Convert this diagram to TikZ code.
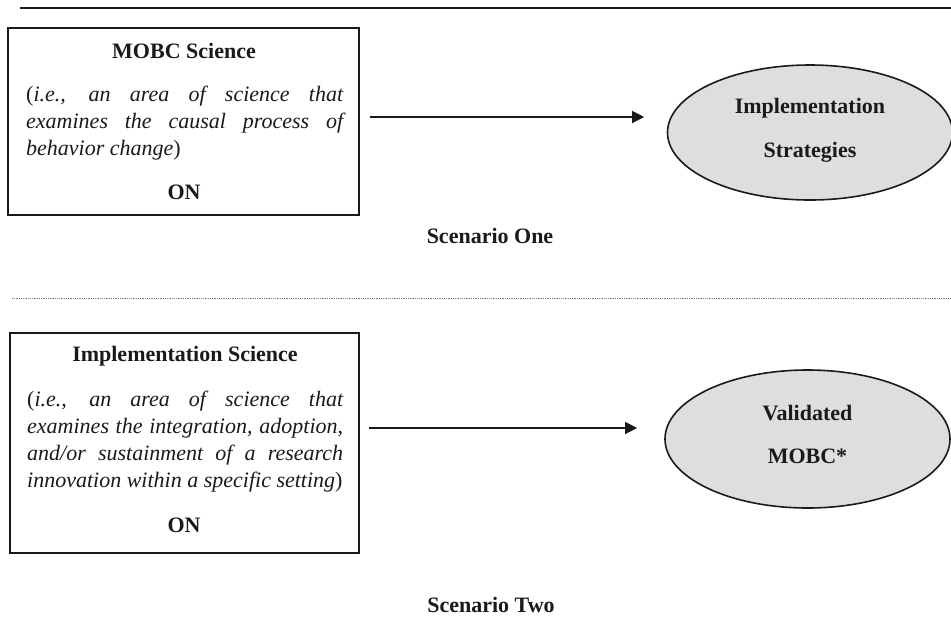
\documentclass[tikz,border=0pt]{standalone}
\usepackage{fontspec}
\setmainfont{Liberation Serif}
\usetikzlibrary{shapes.geometric,arrows.meta}
\definecolor{ellfill}{HTML}{DEDEDE}
\definecolor{inkc}{HTML}{1A1A1A}
\tikzset{
  boxframe/.style={draw=inkc,line width=1.7pt,inner sep=0pt,minimum width=351pt},
  ellnode/.style={ellipse,draw=inkc,line width=1.6pt,fill=ellfill,inner sep=0pt,minimum width=285pt},
  ttl/.style={font=\fontsize{22}{27}\selectfont\bfseries,text=inkc,inner sep=0pt,anchor=base},
  bodytext/.style={font=\fontsize{22}{27}\selectfont,text=inkc,inner sep=0pt,anchor=north west,align=justify},
  arr/.style={draw=inkc,line width=1.2pt,-{Triangle[length=12pt,width=12pt]}},
}
\begin{document}
\begin{tikzpicture}[x=1pt,y=-1pt]
\useasboundingbox (0,0) rectangle (951,622);
% separators
\coordinate (topL) at (20,8);
\coordinate (topR) at (951,8);
\draw[draw=inkc,line width=1.2pt] (topL) -- (topR);
\coordinate (midL) at (12,298);
\coordinate (midR) at (951,298);
\draw[draw=gray,line width=0.9pt,dash pattern=on 0.9pt off 0.9pt] (midL) -- (midR);

% Scenario one
\node[boxframe,minimum height=187pt] (box1) at (183.5,121.5) {};
\node[ttl] (t1) at (184,58) {MOBC Science};
\node[bodytext,text width=317pt] (b1) at (26,82.6) {\strut(\textit{i.e., an area of science that\linebreak examines the causal process of\linebreak behavior change})};
\node[ttl] (on1) at (184,199) {ON};
\node[ellnode,minimum height=135pt] (ell1) at (810,132.5) {};
\node[ttl] (e1a) at (810,113) {Implementation};
\node[ttl] (e1b) at (810,157) {Strategies};
\draw[arr] ([shift={(10,-4.5)}]box1.east) -- ([shift={(-22.5,-15.5)}]ell1.west);
\node[ttl] (s1) at (490,243) {Scenario One};

% Scenario two
\node[boxframe,minimum width=349pt,minimum height=220pt] (box2) at (184.5,443) {};
\node[ttl] (t2) at (185,361.7) {Implementation Science};
\node[bodytext,text width=316pt] (b2) at (27,387.1) {\strut(\textit{i.e., an area of science that\linebreak examines the integration, adoption,\linebreak and/or sustainment of a research\linebreak innovation within a specific setting})};
\node[ttl] (on2) at (184,532.7) {ON};
\node[ellnode,minimum height=138pt] (ell2) at (807.5,439) {};
\node[ttl] (e2a) at (807.5,420) {Validated};
\node[ttl] (e2b) at (807.5,463) {MOBC*};
\draw[arr] ([shift={(9,-15)}]box2.east) -- ([shift={(-27,-11)}]ell2.west);
\node[ttl] (s2) at (491,612) {Scenario Two};
\end{tikzpicture}
\end{document}
